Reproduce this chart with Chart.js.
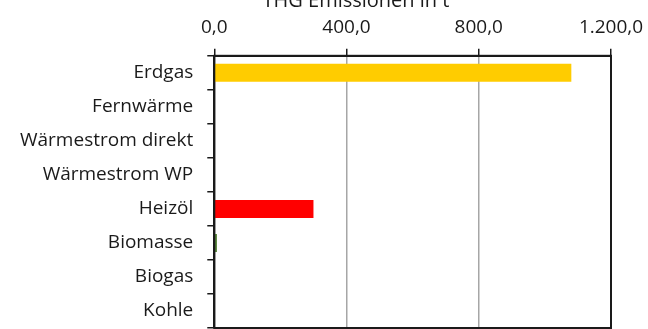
<!DOCTYPE html>
<html>
<head>
<meta charset="utf-8">
<script src="https://cdn.jsdelivr.net/npm/chart.js@4"></script>
<style>
  body { margin: 0; background: #fff; }
  #wrap { position: relative; width: 648px; height: 329px; overflow: hidden; }
  #title {
    position: absolute; left: 256px; width: 200px; top: -10px;
    text-align: center; font-family: "Open Sans", sans-serif;
    font-size: 20px; line-height: 1; color: #1a1a1a; white-space: nowrap;
  }
</style>
</head>
<body>
<div id="wrap">
  <canvas id="myEmissionChart" width="648" height="329"></canvas>
  <div id="title">THG Emissionen in t</div>
</div>
<script>
const categories = ["Erdgas", "Fernwärme", "Wärmestrom direkt", "Wärmestrom WP", "Heizöl", "Biomasse", "Biogas", "Kohle"];
const emissions = [1080, 0, 0, 0, 300, 8, 0, 0];
const barColors = ["#FFCC00", "#FFCC00", "#FFCC00", "#FFCC00", "#FF0000", "#548235", "#548235", "#548235"];
const xTicks = [0, 400, 800, 1200];

function formatDe(v) {
  const parts = v.toFixed(1).split(".");
  parts[0] = parts[0].replace(/\B(?=(\d{3})+(?!\d))/g, ".");
  return parts[0] + "," + parts[1];
}

// frame round the plot area, like the excel chart
const frame = {
  id: "frame",
  afterDraw(chart) {
    const a = chart.chartArea;
    const ctx = chart.ctx;
    ctx.save();
    ctx.strokeStyle = "#1a1a1a";
    ctx.lineWidth = 2;
    ctx.strokeRect(a.left, a.top, a.right - a.left, a.bottom - a.top);
    ctx.restore();
  }
};

const emissionChart = document.getElementById("myEmissionChart").getContext("2d");
let myChart1 = new Chart(emissionChart, {
  type: "bar",
  data: {
    labels: categories,
    datasets: [
      {
        label: "THG Emissionen in t",
        data: emissions,
        backgroundColor: barColors,
        borderWidth: 0,
        categoryPercentage: 1,
        barPercentage: 0.53,
      },
    ],
  },
  options: {
    indexAxis: "y",
    responsive: false,
    animation: false,
    layout: {
      padding: { top: 6, right: 37, bottom: 1, left: 6 }
    },
    plugins: {
      legend: { display: false },
      title: { display: false },
      tooltip: { enabled: false }
    },
    scales: {
      x: {
        position: "top",
        min: 0,
        max: 1200,
        afterBuildTicks(axis) {
          axis.ticks = xTicks.map(v => ({ value: v }));
        },
        afterFit(axis) {
          axis.paddingLeft = 0;
          axis.paddingRight = 0;
        },
        grid: {
          color: "#a6a6a6",
          tickColor: "#1a1a1a",
          tickLength: 7,
          lineWidth: 1.5
        },
        border: { color: "#1a1a1a", width: 2 },
        ticks: {
          callback: v => formatDe(v),
          color: "#1a1a1a",
          padding: 10,
          maxRotation: 0,
          font: { family: "Open Sans", size: 19 }
        }
      },
      y: {
        afterFit(axis) {
          // no extra room above/below for the first and last label
          axis.paddingTop = 0;
          axis.paddingBottom = 0;
        },
        grid: {
          offset: true,
          drawOnChartArea: false,
          tickColor: "#1a1a1a",
          tickLength: 7,
          lineWidth: 1.5
        },
        border: { color: "#1a1a1a", width: 2 },
        ticks: {
          color: "#1a1a1a",
          padding: 14,
          font: { family: "Open Sans", size: 19 }
        }
      }
    }
  },
  plugins: [frame]
});
</script>
</body>
</html>
